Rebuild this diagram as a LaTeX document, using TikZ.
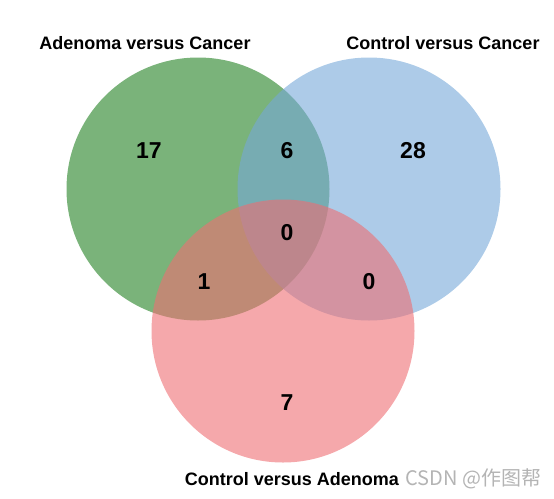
\documentclass[tikz,border=0pt]{standalone}
\usepackage{fontspec}
\setmainfont{Liberation Sans}
\newfontfamily\cjk{Noto Sans CJK SC}
\usetikzlibrary{positioning}
\definecolor{avcgreen}{HTML}{218021}
\definecolor{cvcblue}{HTML}{76A8D8}
\definecolor{cvared}{HTML}{EE6E73}
\definecolor{markgray}{HTML}{B4B4B4}

\begin{document}
\begin{tikzpicture}[
    x=1pt, y=-1pt,
    set/.style={circle, draw=none, fill=#1, fill opacity=0.6, minimum size=263pt, inner sep=0pt},
    title/.style={font=\fontsize{18}{21}\selectfont\bfseries, inner sep=0pt},
    count/.style={font=\fontsize{23}{27}\selectfont\bfseries, inner sep=0pt}
]
    \useasboundingbox (0,0) rectangle (554,498);

    % 1. The three sets
    \node[set=avcgreen] (adencancer) at (198,189) {};
    \node[set=cvcblue] (ctrlcancer) at (369,189) {};
    \node[set=cvared] (ctrladenoma) at (283,331) {};

    % 2. Set titles
    \node[title] (tadencancer) at (145,43) {Adenoma versus Cancer};
    \node[title] (tctrlcancer) at (443,43) {Control versus Cancer};
    \node[title] (tctrladenoma) at (292,479) {Control versus Adenoma};

    % 3. Region counts
    \node[count] (onlyac) at (149,151) {17};
    \node[count] (acandcc) at (287,151) {6};
    \node[count] (onlycc) at (413,151) {28};
    \node[count] (allthree) at (287,233) {0};
    \node[count] (acandca) at (204,282) {1};
    \node[count] (ccandca) at (369,282) {0};
    \node[count] (onlyca) at (287,403) {7};

    % Watermark
    \node[font=\cjk\fontsize{20}{23}\selectfont, text=markgray, inner sep=0pt, right=6pt of tctrladenoma] (mark) {CSDN @作图帮};

\end{tikzpicture}
\end{document}
